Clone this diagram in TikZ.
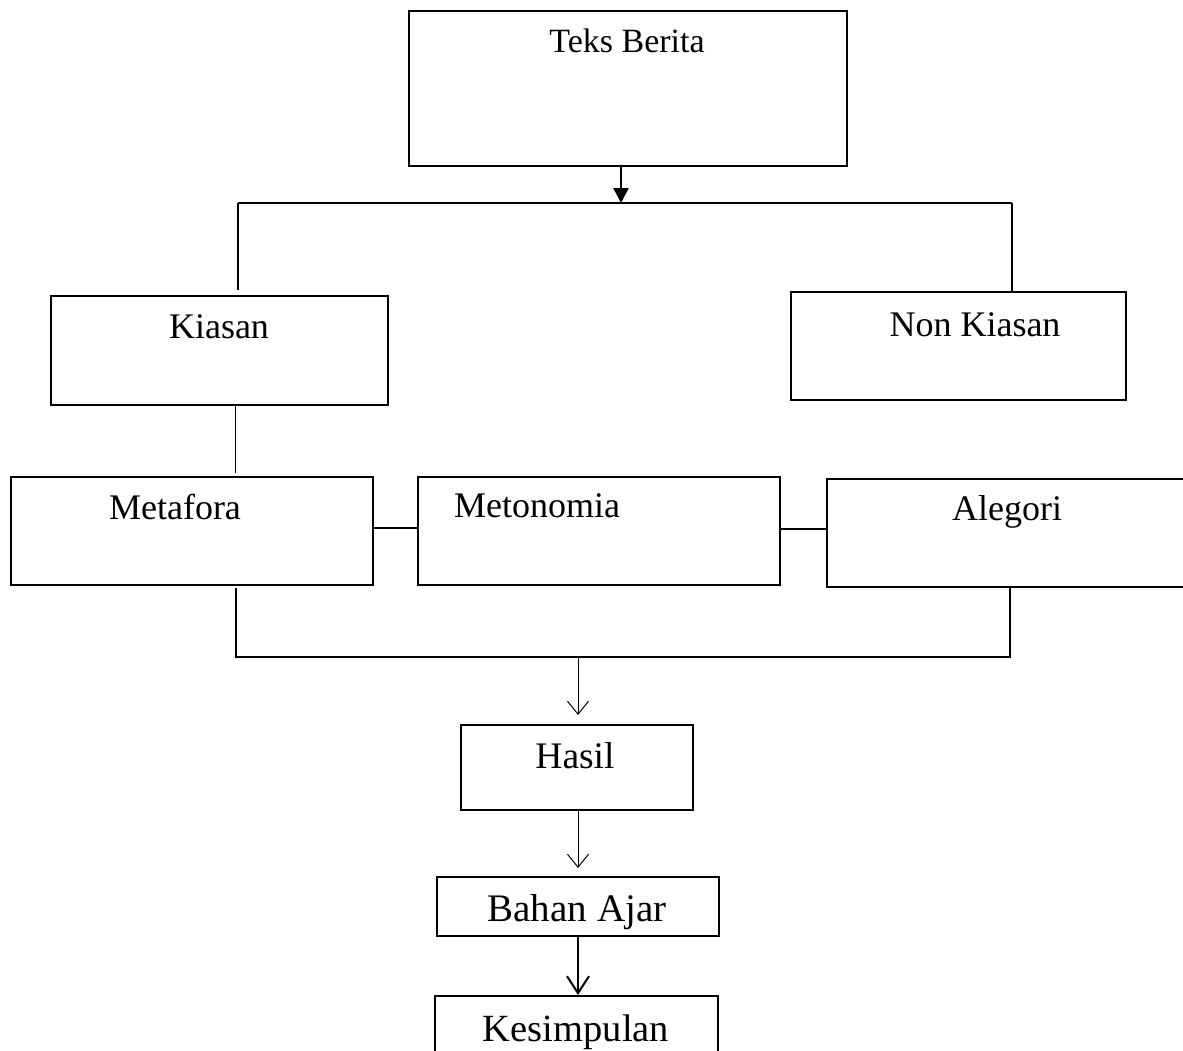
\documentclass[tikz,border=0pt]{standalone}
\usepackage{fontspec}
\setmainfont{Liberation Serif}
\usetikzlibrary{arrows.meta}
\begin{document}
\begin{tikzpicture}[x=1pt,y=-1pt,
  box/.style={draw=black, line width=1.5pt, rectangle, inner sep=0pt, anchor=north west},
  lbl/.style={anchor=base, inner sep=0pt, font=\fontsize{36}{40}\selectfont},
  conn/.style={draw=black, line width=1.5pt},
  thinarrow/.style={draw=black, line width=1pt, -{Straight Barb[length=13pt,width=21pt,line width=1pt]}},
]
\useasboundingbox (0,0) rectangle (1183,1050);
\clip (0,0) rectangle (1183,1050);
% boxes
\node[box, minimum width=438pt, minimum height=155pt] (teks) at (408,10) {};
\node[box, minimum width=337pt, minimum height=109pt] (kiasan) at (50,295) {};
\node[box, minimum width=335pt, minimum height=108pt] (non) at (790,291) {};
\node[box, minimum width=362pt, minimum height=108pt] (meta) at (10,476) {};
\node[box, minimum width=362pt, minimum height=108pt] (meto) at (417,476) {};
\node[box, minimum width=380pt, minimum height=108pt] (ale) at (826,478) {};
\node[box, minimum width=232pt, minimum height=85pt] (hasil) at (460,724) {};
\node[box, minimum width=282pt, minimum height=59pt] (bahan) at (436,876) {};
\node[box, minimum width=283pt, minimum height=80pt] (kes) at (434,995) {};
% labels
\node[lbl, font=\fontsize{34}{38}\selectfont] (tTeks) at (627,52) {Teks Berita};
\node[lbl] (tKiasan) at (219,338) {Kiasan};
\node[lbl] (tNon) at (975,336) {Non Kiasan};
\node[lbl] (tMeta) at (175,519) {Metafora};
\node[lbl] (tMeto) at (537,517) {Metonomia};
\node[lbl] (tAle) at (1007,520) {Alegori};
\node[lbl, font=\fontsize{37.5}{40}\selectfont] (tHasil) at (575,768) {Hasil};
\node[lbl, font=\fontsize{39}{42}\selectfont] (tBahan) at (577,921) {Bahan Ajar};
\node[lbl, font=\fontsize{38.5}{42}\selectfont] (tKes) at (576,1041) {Kesimpulan};
% junction coordinates
\coordinate (j1) at (621,203);
\coordinate (j1l) at (238,203);
\coordinate (j1r) at (1012,203);
\coordinate (kl) at (238,290);
\coordinate (j2l) at (236,657);
\coordinate (j2r) at (1010,657);
\coordinate (j2m) at (578,657);
\coordinate (ha) at (578,715);
\coordinate (ba) at (578,868);
% connectors
\draw[line width=2.3pt, -{Triangle[length=15pt,width=15pt]}] (teks.south -| j1) -- (j1);
\draw[conn] (j1l) -- (j1r);
\draw[conn] (j1l) -- (kl);
\draw[conn] (j1r) -- (non.north -| j1r);
\draw[draw=black, line width=1pt] (kiasan.south -| 235,0) -- (235,473);
\draw[conn] (meta.east |- 0,528) -- (meto.west |- 0,528);
\draw[conn] (meto.east |- 0,529) -- (ale.west |- 0,529);
\draw[conn] (236,588) -- (j2l) -- (j2r) -- (1010,588);
\draw[thinarrow] (j2m) -- (ha);
\draw[thinarrow] (hasil.south -| ha) -- (ba);
\draw[draw=black, line width=2.5pt, -{Straight Barb[length=17pt,width=22pt,line width=2pt]}] (bahan.south -| ba) -- (kes.north -| ba);
\end{tikzpicture}
\end{document}
